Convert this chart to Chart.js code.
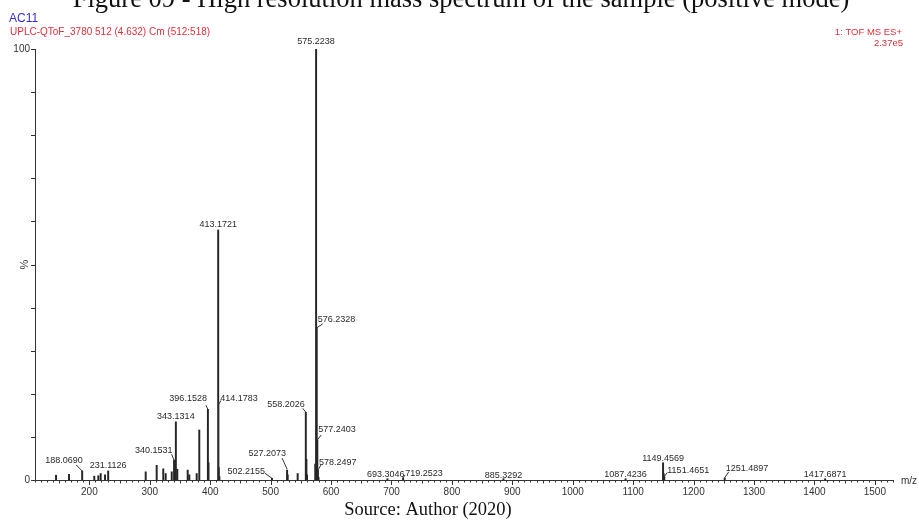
<!DOCTYPE html>
<html>
<head>
<meta charset="utf-8">
<script src="https://cdn.jsdelivr.net/npm/chart.js@4/dist/chart.umd.min.js"></script>
<style>
html,body{margin:0;padding:0;background:#fff;}
#wrap{position:relative;width:919px;height:522px;}
canvas{display:block;}
</style>
</head>
<body>
<div id="wrap"><canvas id="c" width="919" height="522"></canvas></div>
<script>
// ---- data ----
const peakMz = [144.8, 166.3, 188.0690, 208.1, 214.8, 218.7, 225.9, 231.1126,
  293.2, 311.4, 322.3, 326.3, 336.3, 340.1531, 343.1314, 345.5, 362.7, 365.4, 377.6, 381.9,
  396.1528, 397.16, 413.1721, 414.1783, 415.18, 502.2155, 527.2073, 528.2, 544.7,
  558.2026, 559.2, 560.2, 573.8, 575.2238, 576.2328, 577.2403, 578.2497, 579.25,
  693.3046, 719.2523, 885.3292, 1087.4236, 1149.4569, 1150.46, 1151.4651, 1251.4897, 1417.6871];
const peakIntensity = [1.1, 1.3, 2.1, 0.9, 1.0, 1.5, 1.2, 2.1,
  1.9, 3.4, 2.6, 1.5, 1.9, 4.6, 13.5, 2.5, 2.3, 1.2, 1.5, 11.6,
  16.4, 4.0, 58.0, 2.9, 0.8, 0.4, 2.3, 1.2, 1.5,
  15.7, 4.8, 1.2, 3.7, 100, 35.3, 9.3, 2.3, 0.6,
  0.3, 0.5, 0.3, 0.3, 4.0, 1.5, 0.8, 0.5, 0.3];

const labelText = ['575.2238', '413.1721', '576.2328', '396.1528', '343.1314', '340.1531',
  '188.0690', '231.1126', '527.2073', '502.2155', '558.2026', '577.2403', '578.2497',
  '693.3046', '719.2523', '885.3292', '1087.4236', '1149.4569', '1151.4651', '1251.4897',
  '1417.6871', '414.1783'];

const xTickLabels = [200, 300, 400, 500, 600, 700, 800, 900, 1000, 1100, 1200, 1300, 1400, 1500];
const yTickValues = [0, 10, 20, 30, 40, 50, 60, 70, 80, 90, 100];
const yTickLabels = {0: '0', 100: '100'};
const xRange = [110, 1530];

// ---- label layout (pixel offsets from peak top; style only) ----
const labelLayout = {
  '575.2238': {dx: 0, dy: -7, align: 'center'},
  '413.1721': {dx: 0, dy: -6, align: 'center'},
  '576.2328': {dx: 1, dy: -8, align: 'left', lead: [[0,0],[6,-4]]},
  '396.1528': {dx: -1, dy: -11, align: 'right', lead: [[0,0],[-2,-4]]},
  '343.1314': {dx: 0, dy: -5, align: 'center'},
  '340.1531': {dx: -1.5, dy: -10, align: 'right', lead: [[0,0],[-2.5,-6]]},
  '188.0690': {dx: 0.5, dy: -10, align: 'right', lead: [[0,0],[-6,-6]]},
  '231.1126': {dx: 0, dy: -5.5, align: 'center'},
  '527.2073': {dx: -1, dy: -17, align: 'right', lead: [[0,-1],[-5,-12]]},
  '502.2155': {dx: -7, dy: -7, align: 'right', lead: [[0,0],[-7,-5]]},
  '558.2026': {dx: -1, dy: -8, align: 'right', lead: [[0,0],[-3,-4]]},
  '577.2403': {dx: 1, dy: -10, align: 'left', lead: [[0,0],[4,-5]]},
  '578.2497': {dx: 1, dy: -8, align: 'left', lead: [[0,0],[3,-5]]},
  '693.3046': {dx: -1.6, dy: -4, align: 'center'},
  '719.2523': {dx: 2, dy: -4, align: 'left', lead: [[0,0],[2,-3]]},
  '885.3292': {dx: 0, dy: -3.5, align: 'center'},
  '1087.4236': {dx: 0, dy: -4, align: 'center'},
  '1149.4569': {dx: 0, dy: -4.6, align: 'center'},
  '1151.4651': {dx: 3, dy: -5.6, align: 'left', lead: [[0,0],[3,-4]]},
  '1251.4897': {dx: 1, dy: -9.3, align: 'left', lead: [[0,0],[4,-6]]},
  '1417.6871': {dx: 0, dy: -4.2, align: 'center'},
  '414.1783': {dx: 1.5, dy: -68.5, align: 'left', lead: [[0,0],[0,-63],[2,-67]]}
};

const points = peakMz.map((m, i) => ({x: m, y: peakIntensity[i]}));
const FONT = '"Liberation Sans", Arial, sans-serif';

const decor = {
  id: 'decor',
  afterDraw(chart) {
    const ctx = chart.ctx;
    const xs = chart.scales.x, ys = chart.scales.y;
    const area = chart.chartArea;
    const y0 = ys.getPixelForValue(0);
    ctx.save();
    ctx.strokeStyle = '#333';
    ctx.lineWidth = 1;
    // axes
    ctx.beginPath();
    ctx.moveTo(area.left + 0.5, ys.getPixelForValue(100));
    ctx.lineTo(area.left + 0.5, y0 + 0.5);
    ctx.lineTo(area.right, y0 + 0.5);
    ctx.stroke();
    // y ticks
    yTickValues.forEach(v => {
      const py = Math.round(ys.getPixelForValue(v)) + 0.5;
      ctx.beginPath();
      ctx.moveTo(area.left - 4, py);
      ctx.lineTo(area.left + 0.5, py);
      ctx.stroke();
    });
    // x ticks
    for (let v = xRange[0]; v <= xRange[1]; v += 10) {
      const px = Math.round(xs.getPixelForValue(v)) + 0.5;
      let len = 2.5;
      if (v % 100 === 0) len = 5; else if (v % 50 === 0) len = 3.5;
      ctx.beginPath();
      ctx.moveTo(px, y0);
      ctx.lineTo(px, y0 + len);
      ctx.stroke();
    }
    // tick labels
    ctx.fillStyle = '#333';
    ctx.font = '10px ' + FONT;
    ctx.textAlign = 'center';
    ctx.textBaseline = 'middle';
    xTickLabels.forEach(v => {
      ctx.fillText(String(v), xs.getPixelForValue(v), 492);
    });
    ctx.textAlign = 'left';
    ctx.fillText('m/z', area.right + 8, y0 + 1);
    ctx.textAlign = 'right';
    Object.keys(yTickLabels).forEach(k => {
      ctx.fillText(yTickLabels[k], area.left - 5, ys.getPixelForValue(Number(k)));
    });
    // % label rotated
    ctx.save();
    ctx.translate(25, (ys.getPixelForValue(50)));
    ctx.rotate(-Math.PI / 2);
    ctx.textAlign = 'center';
    ctx.font = '11px ' + FONT;
    ctx.fillText('%', 0, 0);
    ctx.restore();

    // peak labels
    ctx.font = '9px ' + FONT;
    ctx.fillStyle = '#2a2a2a';
    ctx.strokeStyle = '#333';
    labelText.forEach(t => {
      const idx = peakMz.findIndex(m => Math.abs(m - parseFloat(t)) < 1e-6);
      if (idx < 0) return;
      const L = labelLayout[t];
      const px = xs.getPixelForValue(peakMz[idx]);
      const py = ys.getPixelForValue(peakIntensity[idx]);
      if (L.lead) {
        ctx.beginPath();
        L.lead.forEach((p, j) => {
          if (j === 0) ctx.moveTo(px + p[0], py + p[1]);
          else ctx.lineTo(px + p[0], py + p[1]);
        });
        ctx.stroke();
      }
      ctx.textAlign = L.align;
      ctx.textBaseline = 'middle';
      ctx.fillText(t, px + L.dx, py + L.dy);
    });

    // header texts
    ctx.textBaseline = 'middle';
    ctx.textAlign = 'left';
    ctx.fillStyle = '#2f2fd0';
    ctx.font = '12px ' + FONT;
    ctx.fillText('AC11', 9, 18.5);
    ctx.fillStyle = '#e0303a';
    ctx.font = '10px ' + FONT;
    ctx.fillText('UPLC-QToF_3780 512 (4.632) Cm (512:518)', 10, 32.5);
    ctx.textAlign = 'right';
    ctx.font = '9.5px ' + FONT;
    ctx.fillText('1: TOF MS ES+', 902, 32.5);
    ctx.fillText('2.37e5', 903, 43);

    // figure title (cut at top) and source
    ctx.fillStyle = '#111';
    ctx.textAlign = 'center';
    ctx.textBaseline = 'alphabetic';
    ctx.font = '26.5px "Liberation Serif", "Times New Roman", serif';
    ctx.fillText('Figure 09 - High resolution mass spectrum of the sample (positive mode)', 461, 7);
    ctx.font = '18.5px "Liberation Serif", "Times New Roman", serif';
    ctx.fillText('Source: Author (2020)', 428, 515);
    ctx.restore();
  }
};

new Chart(document.getElementById('c'), {
  type: 'bar',
  data: {
    datasets: [{
      data: points,
      backgroundColor: '#262626',
      borderWidth: 0,
      barThickness: 1.3
    }]
  },
  options: {
    responsive: false,
    animation: false,
    devicePixelRatio: 1,
    layout: {padding: {left: 35, right: 26, top: 49, bottom: 42}},
    plugins: {legend: {display: false}, tooltip: {enabled: false}, title: {display: false}},
    scales: {
      x: {type: 'linear', min: xRange[0], max: xRange[1], display: false, offset: false},
      y: {type: 'linear', min: 0, max: 100, display: false}
    }
  },
  plugins: [decor]
});
</script>
</body>
</html>
